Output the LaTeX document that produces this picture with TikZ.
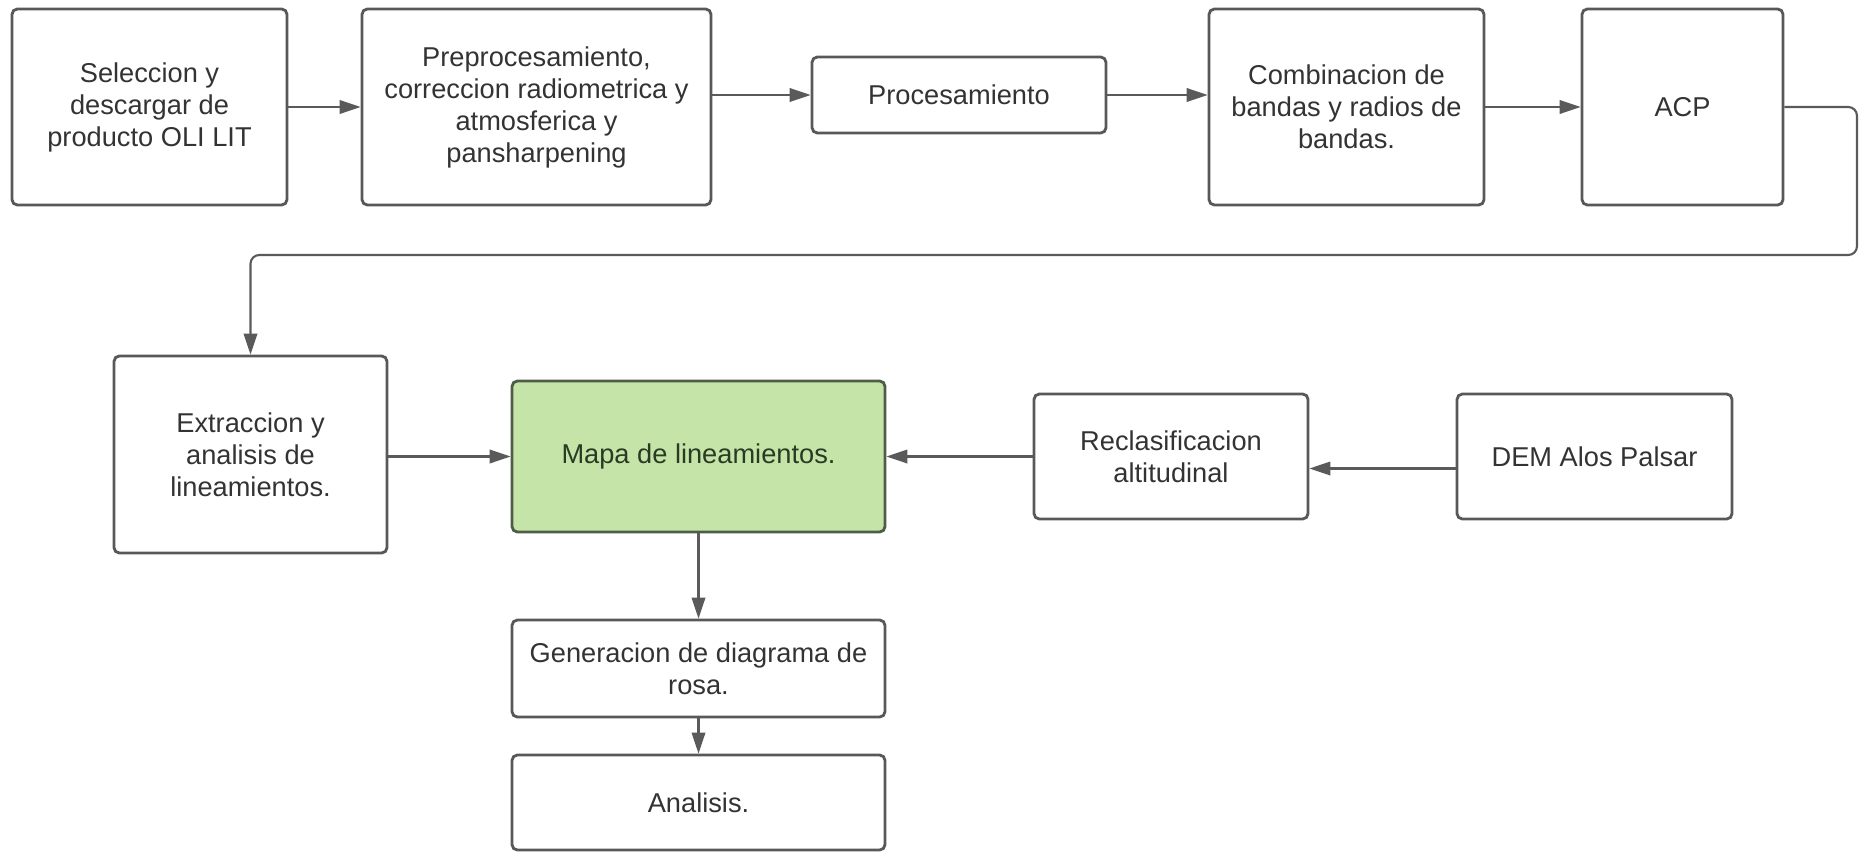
\documentclass[tikz,border=0pt]{standalone}
\usepackage{fontspec}
\setmainfont{Liberation Sans}
\usepackage{xcolor}
\definecolor{BoxBorder}{RGB}{88,88,88}
\definecolor{BoxText}{RGB}{51,51,51}
\definecolor{MapFill}{RGB}{197,229,168}
\definecolor{MapBorder}{RGB}{78,92,72}
\definecolor{MapText}{RGB}{42,58,36}
\definecolor{FlowColor}{RGB}{90,90,90}
\usepackage{tikz}
\usetikzlibrary{
  positioning,
  arrows.meta,
  calc
}
\tikzset{
  % Standard process box
  procbox/.style={
    rectangle,
    rounded corners=3pt,
    draw=BoxBorder,
    fill=white,
    line width=1.6pt,
    align=center,
    inner sep=2pt,
    text=BoxText,
    font=\fontsize{15.5}{18.2}\selectfont
  },
  % Result box (green)
  mapbox/.style={
    procbox,
    draw=MapBorder,
    fill=MapFill,
    text=MapText
  },
  % Flow arrow
  flow/.style={
    draw=FlowColor,
    line width=1.2pt,
    -{Triangle[length=0.42cm, width=0.27cm]}
  }
}

\begin{document}
\begin{tikzpicture}[x=0.02cm, y=-0.02cm]
  \useasboundingbox (0,0) rectangle (1861,852);

  % Top row
  \node[procbox, minimum width=5.5cm, minimum height=3.92cm] (sel) at (149.5,107)
    {Seleccion y\\descargar de\\producto OLI LIT};
  \node[procbox, minimum width=6.98cm, minimum height=3.92cm] (pre) at (536.5,107)
    {Preprocesamiento,\\correccion radiometrica y\\atmosferica y\\pansharpening};
  \node[procbox, minimum width=5.88cm, minimum height=1.52cm] (proc) at (959,95)
    {Procesamiento};
  \node[procbox, minimum width=5.5cm, minimum height=3.92cm] (comb) at (1346.5,107)
    {Combinacion de\\bandas y radios de\\bandas.};
  \node[procbox, minimum width=4.02cm, minimum height=3.92cm] (acp) at (1682.5,107)
    {ACP};

  % Middle row
  \node[procbox, minimum width=5.46cm, minimum height=3.94cm] (ext) at (250.5,454.5)
    {Extraccion y\\analisis de\\lineamientos.};
  \node[mapbox, minimum width=7.46cm, minimum height=3.02cm] (mapa) at (698.5,456.5)
    {Mapa de lineamientos.};
  \node[procbox, minimum width=5.48cm, minimum height=2.5cm] (recl) at (1171,456.5)
    {Reclasificacion\\altitudinal};
  \node[procbox, minimum width=5.5cm, minimum height=2.5cm] (dem) at (1594.5,456.5)
    {DEM Alos Palsar};

  % Bottom column
  \node[procbox, minimum width=7.46cm, minimum height=1.94cm] (gen) at (698.5,668.5)
    {Generacion de diagrama de\\rosa.};
  \node[procbox, minimum width=7.46cm, minimum height=1.9cm] (ana) at (698.5,802.5)
    {Analisis.};

  \coordinate (turn) at (1857,255);

  % Connectors
  \draw[flow] (sel) -- (pre);
  \draw[flow] (pre.east |- proc) -- (proc);
  \draw[flow] (proc) -- (comb.west |- proc);
  \draw[flow] (comb) -- (acp);
  \draw[flow, rounded corners=5pt] (acp.east) -| (turn) -| (ext.north);
  \draw[flow] (ext.east |- mapa) -- (mapa);
  \draw[flow] (recl) -- (mapa);
  \draw[flow] ([yshift=-0.24cm]dem.west) -- ([yshift=-0.24cm]recl.east);
  \draw[flow] (mapa) -- (gen);
  \draw[flow] (gen) -- (ana);
\end{tikzpicture}
\end{document}
